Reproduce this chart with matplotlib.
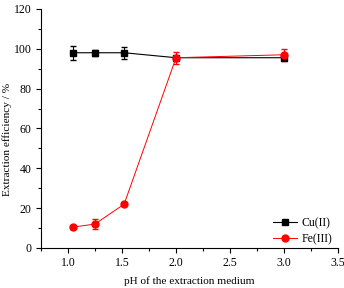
import matplotlib
matplotlib.use("Agg")
import matplotlib.pyplot as plt
from matplotlib.ticker import MultipleLocator
from matplotlib.lines import Line2D

plt.rcParams['font.family'] = ['Liberation Serif', 'DejaVu Serif']

ph_cu = [1.05, 1.25, 1.52, 2.0, 3.0]
cu = [98.0, 98.0, 98.0, 95.5, 95.5]
cu_err = [3.5, 1.5, 3.0, 0.5, 1.0]
ph_fe = [1.05, 1.25, 1.52, 2.0, 3.0]
fe = [10.5, 12.0, 22.0, 95.5, 97.0]
fe_err = [1.0, 2.5, 1.0, 3.0, 3.0]

fig = plt.figure(figsize=(3.44, 2.88), dpi=100)
ax = fig.add_axes([0.119, 0.139, 0.864, 0.83])

ax.errorbar(ph_cu, cu, yerr=cu_err, color='black', marker='s', markersize=5,
            linewidth=0.8, elinewidth=0.8, capsize=2)
ax.errorbar(ph_fe, fe, yerr=fe_err, color='#ff0000', marker='o', markersize=5,
            linewidth=0.7, elinewidth=0.8, capsize=2)

ax.set_xlim(0.75, 3.5)
ax.set_ylim(0, 120)
ax.xaxis.set_major_locator(MultipleLocator(0.5))
ax.xaxis.set_minor_locator(MultipleLocator(0.25))
ax.yaxis.set_major_locator(MultipleLocator(20))
ax.yaxis.set_minor_locator(MultipleLocator(10))
ax.spines['top'].set_visible(False)
ax.spines['right'].set_visible(False)
ax.tick_params(which='both', direction='out', labelsize=8.5, width=0.8)
ax.tick_params(which='major', length=3.5, pad=3.2)
ax.tick_params(which='minor', length=2)
ax.set_xlabel('pH of the extraction medium', fontsize=8.1, labelpad=5)
ax.set_ylabel('Extraction efficiency / %', fontsize=8.1)
ax.yaxis.set_label_coords(-0.098, 0.452)

handles = [
    Line2D([], [], color='black', marker='s', markersize=5, linewidth=0.8, label='Cu(II)'),
    Line2D([], [], color='#ff0000', marker='o', markersize=5, linewidth=0.7, label='Fe(III)'),
]
ax.legend(handles=handles, loc='lower right', frameon=False, fontsize=8.5,
          handlelength=2.0, handletextpad=0.4, borderaxespad=0.1,
          labelspacing=0.3, bbox_to_anchor=(1.0, -0.012))

fig.savefig('out.png', dpi=100)
